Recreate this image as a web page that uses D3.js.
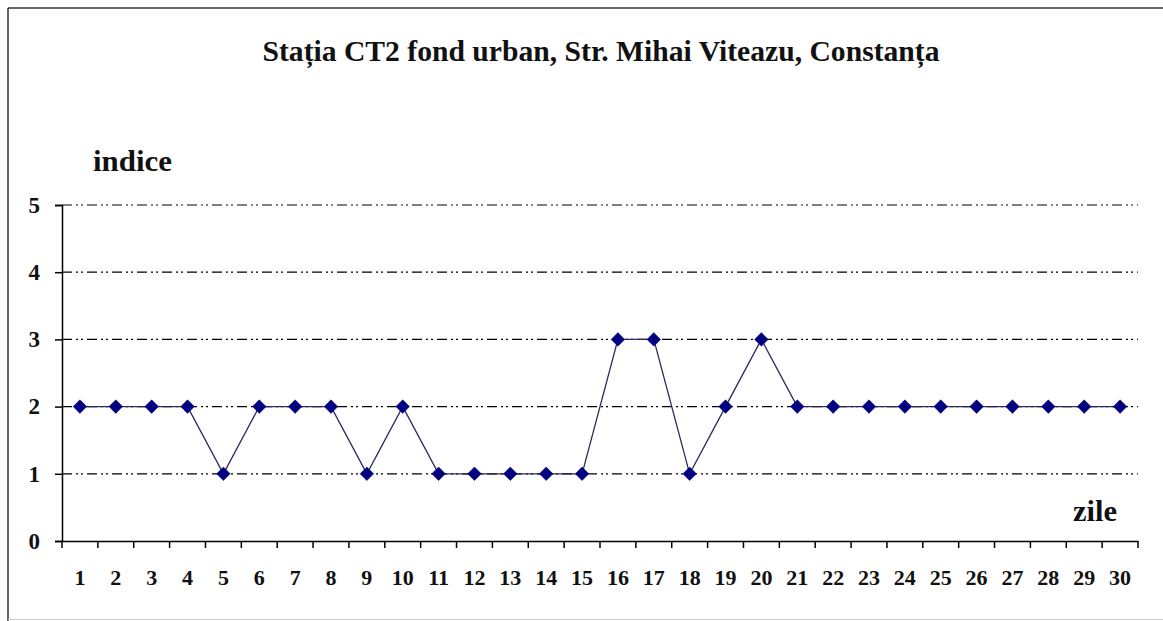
<!DOCTYPE html>
<html><head><meta charset="utf-8">
<script src="https://cdn.jsdelivr.net/npm/d3@7"></script>
<style>html,body{margin:0;padding:0;background:#fff;}svg{display:block;}</style>
</head><body>
<script>
const titleText = "Stația CT2 fond urban, Str. Mihai Viteazu, Constanța";
const yAxisTitle = "indice";
const xAxisTitle = "zile";
const days = d3.range(1, 31).map(String);
const indexValues = [2,2,2,2,1,2,2,2,1,2,1,1,1,1,1,3,3,1,2,3,2,2,2,2,2,2,2,2,2,2];
const yTicks = [0,1,2,3,4,5];

(function(){
const W = 1163, H = 621;
const svg = d3.select("body").append("svg").attr("width", W).attr("height", H);
const font = "'Liberation Serif','Times New Roman',serif";

// outer frame
svg.append("line").attr("x1",8).attr("y1",8).attr("x2",W).attr("y2",8).attr("stroke","#333").attr("stroke-width",1.5);
svg.append("line").attr("x1",8).attr("y1",8).attr("x2",8).attr("y2",H).attr("stroke","#333").attr("stroke-width",1.5);
svg.append("line").attr("x1",8).attr("y1",619.5).attr("x2",W).attr("y2",619.5).attr("stroke","#ccc").attr("stroke-width",1);

const mLeft = 62, mRight = 1138, mTop = 205, mBottom = 541;
const x = d3.scaleBand().domain(days).range([mLeft, mRight]).padding(0);
const y = d3.scaleLinear().domain([0, 5]).range([mBottom, mTop]);

// gridlines
svg.append("g").selectAll("line").data(yTicks.filter(d => d > 0)).join("line")
  .attr("x1", mLeft).attr("x2", mRight)
  .attr("y1", d => y(d)).attr("y2", d => y(d))
  .attr("stroke", "#000").attr("stroke-width", 1.2)
  .attr("stroke-dasharray", "10,4,2,3,2,4");

// y axis
const yAxis = svg.append("g").attr("transform", `translate(${mLeft},0)`)
  .call(d3.axisLeft(y).tickValues(yTicks).tickSize(7).tickPadding(15).tickFormat(d3.format("d")));
yAxis.select(".domain").attr("stroke","#000").attr("stroke-width",1.5);
yAxis.selectAll(".tick line").attr("stroke","#000").attr("stroke-width",1.5);
yAxis.selectAll("text").attr("font-family", font).attr("font-weight","bold").attr("font-size", 23).attr("fill","#111");

// x axis
const xAxis = svg.append("g").attr("transform", `translate(0,${mBottom})`)
  .call(d3.axisBottom(x).tickSize(0).tickPadding(28));
xAxis.select(".domain").attr("stroke","#000").attr("stroke-width",1.5);
xAxis.selectAll("text").attr("font-family", font).attr("font-weight","bold").attr("font-size", 22).attr("fill","#111");
const bounds = days.map(d => x(d)).concat([x(days[days.length-1]) + x.bandwidth()]);
xAxis.append("g").selectAll("line").data(bounds).join("line")
  .attr("x1", d => d).attr("x2", d => d).attr("y1", 0).attr("y2", 7)
  .attr("stroke","#000").attr("stroke-width",1.5);

// series line
const cx = d => x(d) + x.bandwidth() / 2;
const line = d3.line().x((d, i) => cx(days[i])).y(d => y(d));
svg.append("path").datum(indexValues).attr("d", line)
  .attr("fill","none").attr("stroke","#2a2a5e").attr("stroke-width",1.3);

// markers
const sym = d3.symbol().type(d3.symbolSquare).size(92);
svg.append("g").selectAll("path").data(indexValues).join("path")
  .attr("d", sym)
  .attr("transform", (d, i) => `translate(${cx(days[i])},${y(d)}) rotate(45)`)
  .attr("fill","#000080").attr("stroke","#000080").attr("stroke-width",0.5);

// titles
svg.append("text").attr("x", 601).attr("y", 61).attr("text-anchor","middle")
  .attr("font-family", font).attr("font-weight","bold").attr("font-size", 29).attr("fill","#111")
  .attr("textLength", 677).attr("lengthAdjust", "spacingAndGlyphs")
  .text(titleText);
svg.append("text").attr("x", 93).attr("y", 171)
  .attr("font-family", font).attr("font-weight","bold").attr("font-size", 30).attr("fill","#111")
  .attr("textLength", 79).attr("lengthAdjust", "spacingAndGlyphs")
  .text(yAxisTitle);
svg.append("text").attr("x", 1073).attr("y", 521)
  .attr("font-family", font).attr("font-weight","bold").attr("font-size", 30).attr("fill","#111")
  .attr("textLength", 44).attr("lengthAdjust", "spacingAndGlyphs")
  .text(xAxisTitle);
})();
</script>
</body></html>
